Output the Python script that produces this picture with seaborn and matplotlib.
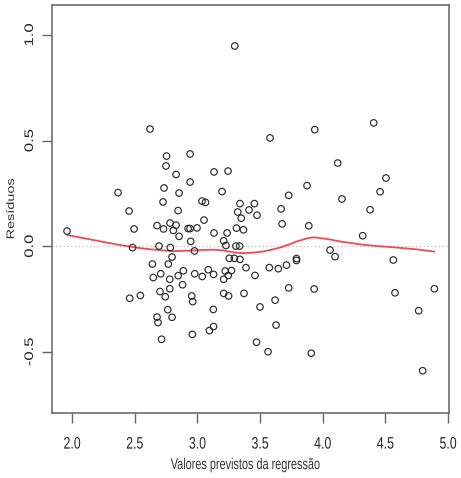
import numpy as np
import pandas as pd
import seaborn as sns
import matplotlib
matplotlib.use("Agg")
import matplotlib.pyplot as plt
from matplotlib.patheffects import AbstractPathEffect
from matplotlib.transforms import Affine2D

# ---- data (fitted values, residuals) ----
fitted = [1.960, 2.622, 2.367, 2.455, 2.495, 2.754, 2.750, 2.830, 2.942, 2.942,
          2.734, 2.854, 2.726, 2.846, 3.037, 3.065, 3.133, 3.245, 3.197, 3.053,
          2.782, 2.678, 2.730, 2.830, 2.808, 2.926, 2.942, 2.997, 3.133, 3.237,
          2.854, 3.298, 3.580, 3.937, 4.407, 4.120, 4.505, 4.458, 4.378, 4.154,
          3.875, 3.729, 3.668, 3.676, 3.889, 4.319, 3.340, 3.322, 3.350, 3.412,
          3.455, 3.476, 3.312, 3.368, 2.483, 2.694, 2.784, 2.798, 2.947, 2.977,
          3.210, 3.228, 3.308, 3.337, 3.255, 3.295, 3.340, 2.641, 2.768, 2.648,
          2.708, 2.780, 2.847, 2.888, 2.979, 3.039, 3.087, 3.129, 3.210, 3.222,
          3.246, 3.272, 2.702, 2.744, 2.780, 2.882, 2.460, 2.545, 2.955, 2.963,
          3.210, 3.249, 2.764, 2.678, 2.686, 2.798, 3.127, 2.960, 3.096, 3.129,
          2.714, 3.388, 3.460, 3.574, 3.646, 3.711, 3.791, 3.791, 4.059, 4.099,
          4.564, 3.372, 3.500, 3.620, 3.729, 3.932, 4.577, 4.891, 4.766, 3.628,
          3.472, 3.564, 3.909, 4.798]
residuals = [0.072, 0.555, 0.254, 0.167, 0.082, 0.427, 0.380, 0.340, 0.437, 0.304,
             0.276, 0.252, 0.210, 0.169, 0.214, 0.208, 0.352, 0.356, 0.259, 0.124,
             0.110, 0.098, 0.082, 0.100, 0.075, 0.084, 0.084, 0.087, 0.063, 0.063,
             0.047, 0.948, 0.513, 0.552, 0.584, 0.394, 0.323, 0.258, 0.173, 0.224,
             0.287, 0.241, 0.177, 0.106, 0.097, 0.050, 0.202, 0.162, 0.133, 0.172,
             0.202, 0.147, 0.086, 0.078, -0.006, 0.001, -0.006, -0.051, 0.023, -0.022,
             0.026, 0.004, 0.001, 0.001, -0.057, -0.057, -0.062, -0.084, -0.084, -0.148,
             -0.130, -0.156, -0.139, -0.116, -0.130, -0.143, -0.111, -0.133, -0.156, -0.117,
             -0.138, -0.115, -0.214, -0.239, -0.201, -0.182, -0.246, -0.233, -0.235, -0.262,
             -0.223, -0.235, -0.300, -0.335, -0.361, -0.336, -0.299, -0.417, -0.399, -0.380,
             -0.440, -0.101, -0.138, -0.101, -0.106, -0.089, -0.058, -0.067, -0.018, -0.049,
             -0.065, -0.223, -0.287, -0.255, -0.197, -0.202, -0.220, -0.201, -0.305, -0.373,
             -0.454, -0.499, -0.506, -0.589]

x_ticks = [2.0, 2.5, 3.0, 3.5, 4.0, 4.5, 5.0]
y_ticks = [-0.5, 0.0, 0.5, 1.0]
x_label = "Valores previstos da regressão"
y_label = "Resíduos"


def lowess(x, y, f=2/3, iters=3):
    """R-style lowess smoother (tricube weights, bisquare robustness)."""
    x = np.asarray(x, float)
    y = np.asarray(y, float)
    order = np.argsort(x)
    x, y = x[order], y[order]
    n = len(x)
    r = max(min(int(np.floor(f * n + 1e-7)), n), 2)
    rob = np.ones(n)
    fit = np.zeros(n)
    for it in range(iters + 1):
        for i in range(n):
            d = np.abs(x - x[i])
            h = max(np.sort(d)[r - 1], 1e-12)
            u = np.clip(d / h, 0, 1)
            w = (1 - u ** 3) ** 3 * rob
            sw = w.sum()
            xm = (w * x).sum() / sw
            ym = (w * y).sum() / sw
            sxx = (w * (x - xm) ** 2).sum()
            b = (w * (x - xm) * (y - ym)).sum() / sxx if sxx > 1e-12 else 0.0
            fit[i] = ym + b * (x[i] - xm)
        if it == iters:
            break
        res = y - fit
        s = np.median(np.abs(res))
        u = np.clip(res / (6 * s), -1, 1)
        rob = (1 - u ** 2) ** 2
    return x, fit


class XSqueeze(AbstractPathEffect):
    """Draw text squeezed horizontally about its own centre (the reference
    image is horizontally compressed)."""

    def __init__(self, sx):
        super().__init__()
        self.sx = sx

    def draw_path(self, renderer, gc, tpath, affine, rgbFace=None):
        ext = tpath.get_extents(affine)
        cx = 0.5 * (ext.x0 + ext.x1)
        t = affine + Affine2D().translate(-cx, 0).scale(self.sx, 1.0).translate(cx, 0)
        renderer.draw_path(gc, tpath, t, rgbFace)


df = pd.DataFrame({"fitted": fitted, "resid": residuals})
sx, sy = lowess(df["fitted"], df["resid"])
smooth = pd.DataFrame({"fitted": sx, "resid": sy})

sns.set_style("ticks")
plt.rcParams["font.family"] = ["Liberation Sans", "DejaVu Sans"]

fig = plt.figure(figsize=(4.61, 4.78), dpi=100)
ax = fig.add_axes([52 / 461, 1 - 413 / 478, (449 - 52) / 461, (413 - 5) / 478])

ax.axhline(0, color="#bdbdbd", lw=0.9, ls=(0, (1, 2)), zorder=1)
sns.scatterplot(data=df, x="fitted", y="resid", ax=ax, marker="o", s=22,
                facecolors="none", edgecolor="#2b2b2b", linewidth=0.85, zorder=3)
sns.lineplot(data=smooth, x="fitted", y="resid", ax=ax, estimator=None, sort=True,
             color="#ee4b55", lw=1.3, zorder=2)

squeeze = [XSqueeze(0.74)]
ax.set_xlim(1.840, 5.008)
ax.set_ylim(-0.789, 1.142)
ax.set_xticks(x_ticks)
ax.set_xticklabels([f"{t:.1f}" for t in x_ticks], fontsize=12, color="#262626")
ax.set_yticks(y_ticks)
ax.set_yticklabels([f"{t:.1f}" for t in y_ticks], rotation=90, va="center",
                   fontsize=12, color="#262626")
for lab in ax.get_xticklabels() + ax.get_yticklabels():
    lab.set_path_effects(squeeze)
ax.tick_params(axis="both", direction="out", length=7, width=1.0, color="#666666")
ax.tick_params(axis="x", pad=10)
ax.tick_params(axis="y", pad=3.5)
for sp in ax.spines.values():
    sp.set_visible(True)
    sp.set_color("#6e6e6e")
    sp.set_linewidth(1.2)

ax.set_xlabel(x_label, fontsize=11.2, color="#333333")
ax.set_ylabel(y_label, fontsize=10.4, color="#333333")
ax.xaxis.label.set_path_effects([XSqueeze(0.70)])
ax.yaxis.label.set_path_effects(squeeze)
ax.yaxis.set_label_coords(-0.085, 0.5)
ax.xaxis.set_label_coords(0.486, -0.108)

fig.savefig("out.png", dpi=100)
